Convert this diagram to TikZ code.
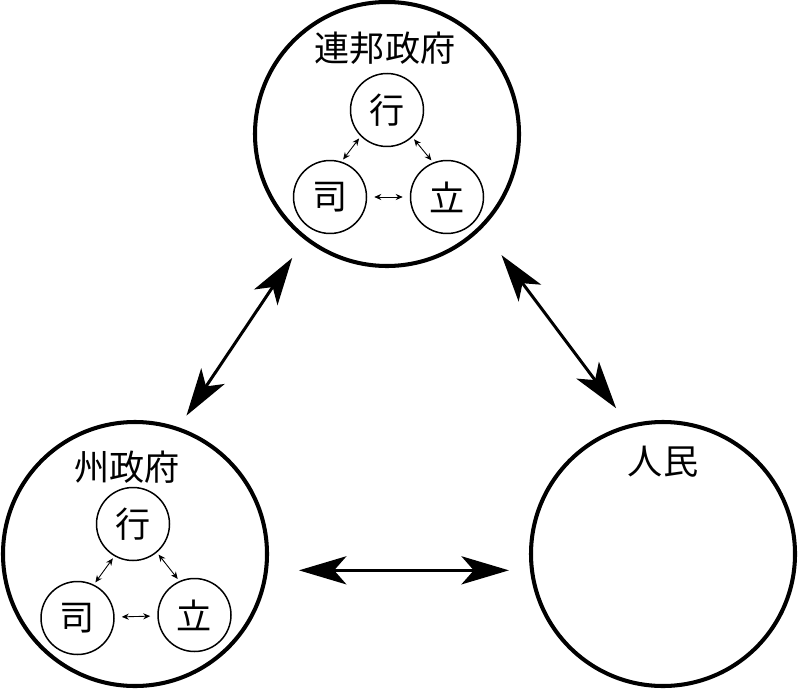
\documentclass[tikz,border=0pt]{standalone}
\usepackage{fontspec}
\newfontfamily\cjk{Noto Sans CJK JP}
\usepackage{tikz}
\usetikzlibrary{arrows.meta}

\tikzset{
  govcircle/.style={draw, circle, line width=2.3pt, minimum size=5.28cm, inner sep=0pt},
  branchcircle/.style={draw, circle, line width=0.85pt, minimum size=1.46cm, inner sep=0pt, font=\cjk\fontsize{20}{24}\selectfont},
  titletext/.style={font=\cjk\fontsize{20}{24}\selectfont, inner sep=1pt},
  bigarrow/.style={{Stealth[length=27pt, width=16pt, inset=7pt]}-{Stealth[length=27pt, width=16pt, inset=7pt]}, line width=1.7pt},
  smallarrow/.style={{Stealth[length=4pt, width=3.5pt]}-{Stealth[length=4pt, width=3.5pt]}, line width=0.5pt, shorten <=1.5pt, shorten >=1.5pt}
}

\begin{document}
\begin{tikzpicture}
  \useasboundingbox[fill=white] (0,0) rectangle (16,13.76);

  % Governments and people
  \node[govcircle] (fed) at (7.74, 11.08) {};
  \node[govcircle] (state) at (2.70, 2.68) {};
  \node[govcircle] (people) at (13.26, 2.68) {};

  \node[titletext] (fedtitle) at (7.70, 12.80) {連邦政府};
  \node[titletext] (statetitle) at (2.54, 4.42) {州政府};
  \node[titletext] (peopletitle) at (13.26, 4.52) {人民};

  % Federal branches
  \node[branchcircle] (fx) at (7.74, 11.56) {行};
  \node[branchcircle] (fs) at (6.60, 9.82) {司};
  \node[branchcircle] (fl) at (8.94, 9.82) {立};

  \draw[smallarrow] (fx.225) -- (fs.72);
  \draw[smallarrow] (fx.-47) -- (fl.112);
  \draw[smallarrow, shorten <=4pt, shorten >=4pt] (fs) -- (fl);

  % State branches
  \node[branchcircle] (sx) at (2.66, 3.28) {行};
  \node[branchcircle] (ss) at (1.55, 1.40) {司};
  \node[branchcircle] (sl) at (3.89, 1.46) {立};

  \draw[smallarrow] (sx.240) -- (ss.64);
  \draw[smallarrow] (sx.-50) -- (sl.114);
  \draw[smallarrow, shorten <=4pt, shorten >=4pt] (ss) -- (sl);

  % Relations
  \draw[bigarrow, shorten <=12.5pt, shorten >=8pt] (fed.232.5) -- (state.71);
  \draw[bigarrow, shorten <=17.6pt, shorten >=12pt] (state.-7) -- (people.187);
  \draw[bigarrow, shorten <=18.7pt, shorten >=11.6pt] (fed.-45) -- (people.105.5);
\end{tikzpicture}
\end{document}
